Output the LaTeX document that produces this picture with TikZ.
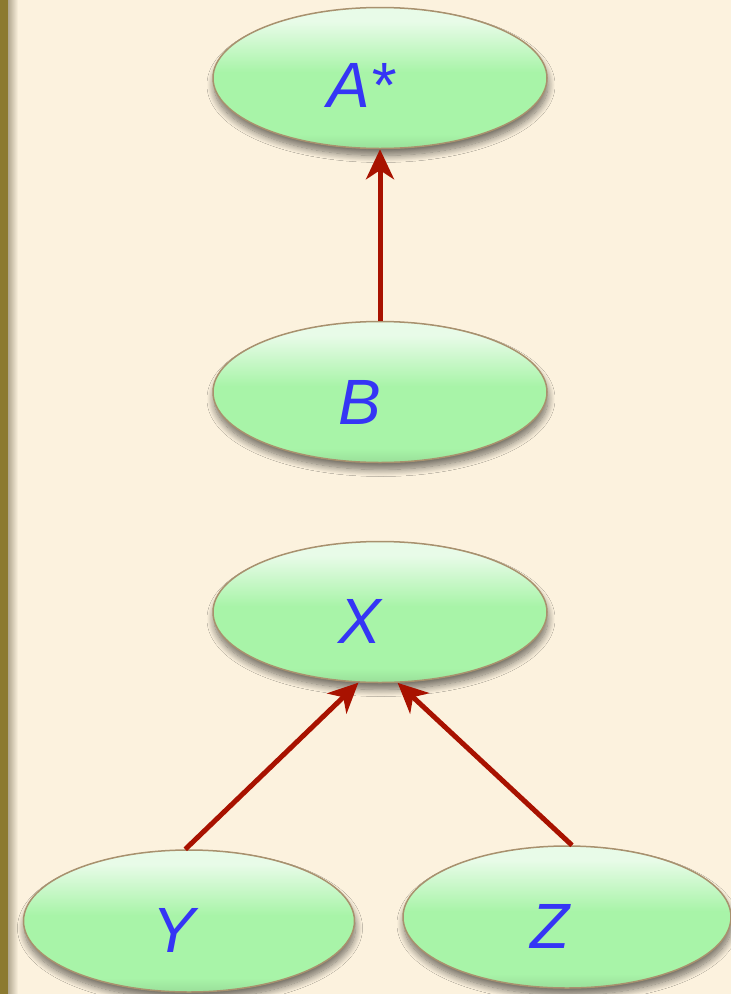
\documentclass[tikz,border=0pt]{standalone}
\usepackage{fontspec}
\setmainfont{Liberation Sans}
\usetikzlibrary{shapes.geometric,arrows.meta,shadows.blur}
\definecolor{bg}{HTML}{FCF2DE}
\definecolor{gtop}{HTML}{E8FBE8}
\definecolor{gmid}{HTML}{A8F4A8}
\definecolor{gbot}{HTML}{9ADF9A}
\definecolor{edgec}{HTML}{A8916E}
\definecolor{txt}{HTML}{3535F5}
\definecolor{arr}{HTML}{A81200}
\definecolor{framec}{HTML}{8C7A30}
\definecolor{frameshade}{HTML}{B2A890}
\pgfdeclareverticalshading{glossy}{100bp}{color(0bp)=(gbot); color(25bp)=(gbot); color(30bp)=(gmid); color(52bp)=(gmid); color(70bp)=(gtop); color(75bp)=(gtop); color(100bp)=(gtop)}
\begin{document}
\begin{tikzpicture}[x=1pt,y=-1pt,
  bubble/.style={ellipse, minimum width=334pt, minimum height=141pt, inner sep=0pt,
    shade, shading=glossy, draw=edgec, line width=1.5pt,
    blur shadow={shadow xshift=1pt, shadow yshift=-7pt, shadow blur radius=7pt, shadow blur steps=12, shadow opacity=55}},
  lbl/.style={text=txt, font=\fontsize{64}{70}\selectfont\itshape, inner sep=0pt},
  link/.style={draw=arr, line width=5pt, -{Stealth[length=30pt, width=28pt, inset=9pt]}}]
\useasboundingbox (0,0) rectangle (731,994);
\fill[bg] (0,0) rectangle (731,994);
\fill[framec] (0,0) rectangle (8,994);
\shade[left color=frameshade, right color=bg] (8,0) rectangle (18,994);

\node[bubble, label={[lbl, xshift=-19pt, yshift=-7pt]center:A*}] (A) at (380,78) {};
\node[bubble, label={[lbl, xshift=-20pt, yshift=-10pt]center:B}] (B) at (380,392) {};
\node[bubble, label={[lbl, xshift=-20pt, yshift=-9pt]center:X}] (X) at (380,612) {};
\node[bubble, minimum width=331pt, minimum height=142pt, label={[lbl, xshift=-15pt, yshift=-9pt]center:Y}] (Y) at (189,921) {};
\node[bubble, minimum width=328pt, minimum height=142pt, label={[lbl, xshift=-17pt, yshift=-9pt]center:Z}] (Z) at (567,917) {};

\draw[link] (B.north) -- (A.south);
\draw[link] (Y.93) -- (X.253);
\draw[link] (Z.86) -- (X.284);
\end{tikzpicture}
\end{document}
